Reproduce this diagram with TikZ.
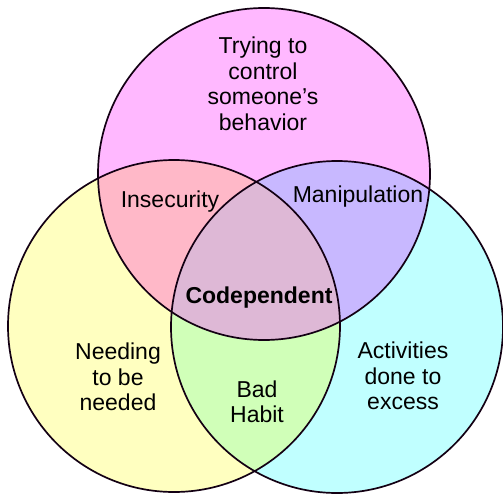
\documentclass[tikz,border=0pt]{standalone}
\usepackage{fontspec}
\setmainfont{Liberation Sans}
\usepackage{tikz}
\usetikzlibrary{positioning}
\definecolor{control}{RGB}{255,184,255}
\definecolor{needed}{RGB}{255,255,192}
\definecolor{excess}{RGB}{192,255,255}
\definecolor{insec}{RGB}{255,184,200}
\definecolor{manip}{RGB}{200,184,255}
\definecolor{badhabit}{RGB}{208,255,184}
\definecolor{codep}{RGB}{222,184,214}

\begin{document}
\begin{tikzpicture}[x=1pt,y=-1pt,
    ring/.style={draw=black!85!violet,line width=1.7pt},
    txt/.style={font=\fontsize{23}{25.5}\selectfont,align=center}
  ]
  \useasboundingbox (0,0) rectangle (503,495);
  \coordinate (ctop) at (264,174);
  \coordinate (cleft) at (174,326);
  \coordinate (cright) at (337,327);
  % single circles
  \fill[control] (ctop) circle (166pt);
  \fill[needed] (cleft) circle (166pt);
  \fill[excess] (cright) circle (166pt);
  % overlaps
  \begin{scope}
    \clip (ctop) circle (166pt);
    \fill[insec] (cleft) circle (166pt);
    \fill[manip] (cright) circle (166pt);
  \end{scope}
  \begin{scope}
    \clip (cleft) circle (166pt);
    \fill[badhabit] (cright) circle (166pt);
    \clip (ctop) circle (166pt);
    \fill[codep] (cright) circle (166pt);
  \end{scope}
  \foreach \c in {ctop,cleft,cright} {
    \draw[ring] (\c) circle (166pt);
  }
  % labels
  \node[txt] (trying) at (263,84) {Trying to\\control\\someone’s\\behavior};
  \node[txt] (insecurity) at (170,202) {Insecurity};
  \node[txt] (manipulation) at (358,197) {Manipulation};
  \node[txt,font=\fontsize{23}{25.5}\selectfont\bfseries] (codependent) at (259,298) {Codependent};
  \node[txt] (needing) at (118,377) {Needing\\to be\\needed};
  \node[txt] (habit) at (257,402) {Bad\\Habit};
  \node[txt] (activities) at (403,376) {Activities\\done to\\excess};
\end{tikzpicture}
\end{document}
